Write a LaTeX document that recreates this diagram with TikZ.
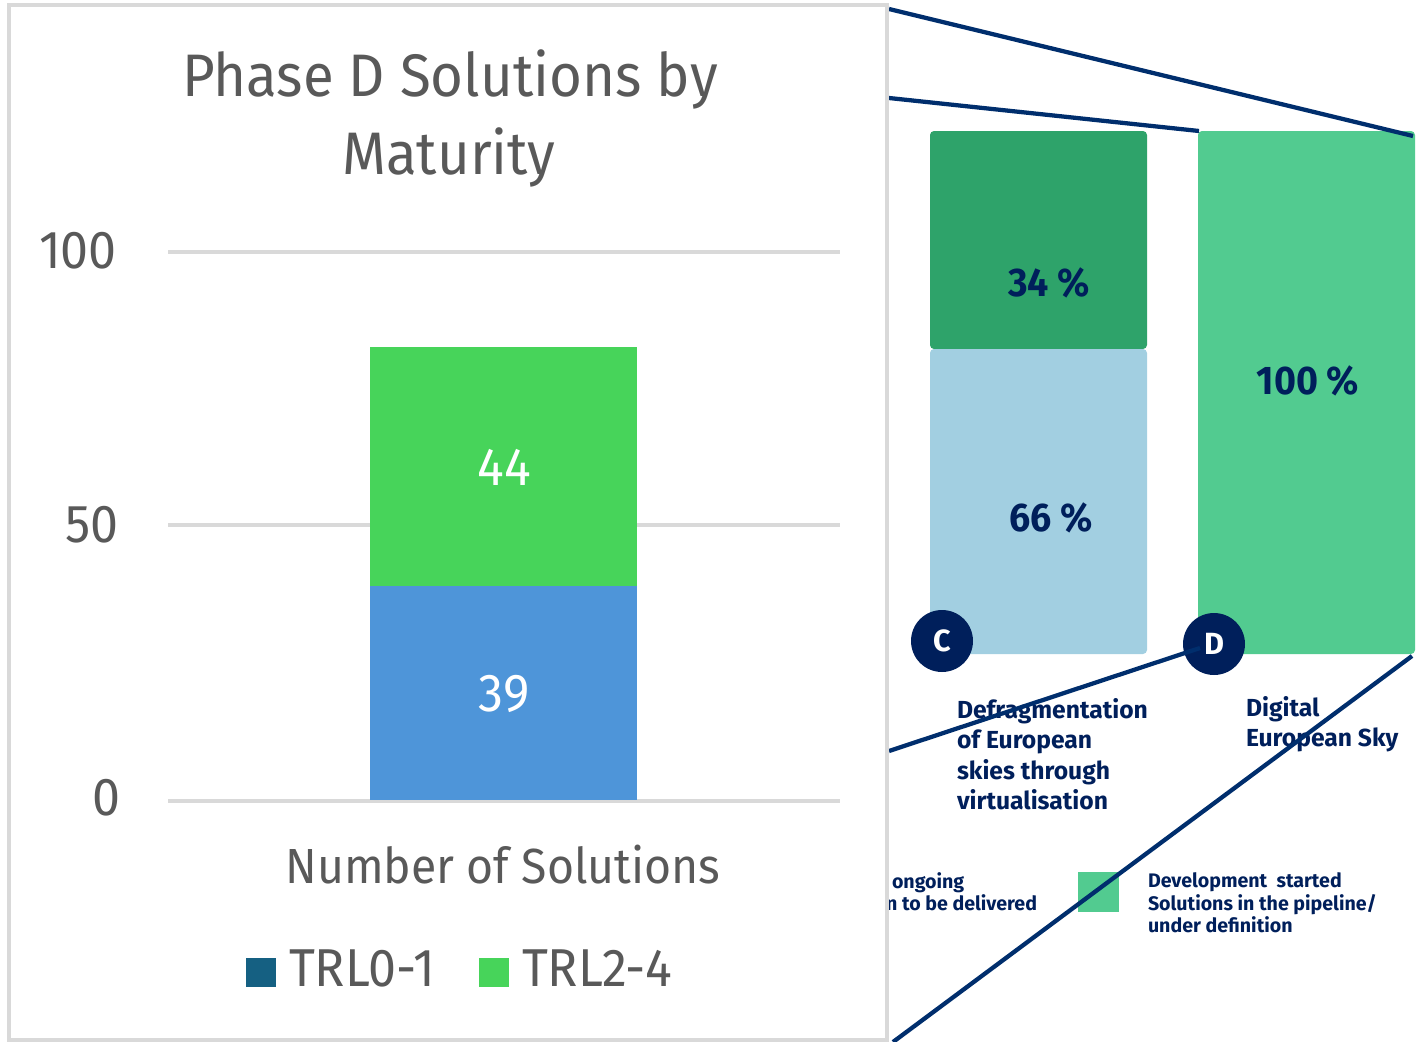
\documentclass[tikz,border=0pt]{standalone}
\usepackage{fontspec}
\setmainfont{Open Sans}
\newfontfamily\chartfont{Fira Sans}[FakeStretch=0.94]
\newfontfamily\pctfont{Fira Sans}[FakeStretch=0.94]
\newfontfamily\infofont{Fira Sans}
\definecolor{gridgray}{HTML}{D9D9D9}
\definecolor{charttext}{HTML}{595959}
\definecolor{navy}{HTML}{001F5B}
\definecolor{linenavy}{HTML}{002E6D}
\definecolor{darkgreen}{HTML}{2EA36A}
\definecolor{lightblue}{HTML}{A2CFE1}
\definecolor{midgreen}{HTML}{52CB90}
\definecolor{barblue}{HTML}{4E95D9}
\definecolor{bargreen}{HTML}{47D45A}
\definecolor{legblue}{HTML}{156082}
\newcommand{\fsz}[2]{\fontsize{#1}{#2}\selectfont}
\tikzset{
  x=0.75pt,y=-0.75pt,
  txt/.style={inner sep=0pt,outer sep=0pt,anchor=center},
  charttxt/.style={txt,text=charttext,font=\chartfont\fsz{40}{44}},
  infotxt/.style={txt,text=navy,font=\infofont\bfseries\fsz{18.5}{22.9},align=left,anchor=north west},
  smalltxt/.style={txt,text=navy,font=\infofont\bfseries\fsz{14.7}{16.9},align=left,anchor=north west},
  pct/.style={txt,text=navy,font=\pctfont\bfseries\fsz{30}{32}},
  callout/.style={draw=linenavy,line width=3.2pt},
  grid/.style={draw=gridgray,line width=3pt},
  badge/.style={circle,fill=navy,text=white,inner sep=0pt,minimum size=46.5pt,font=\infofont\bfseries\fsz{23}{24}},
  box/.style={inner sep=0pt,outer sep=0pt,rounded corners=3pt},
}
\begin{document}
\begin{tikzpicture}
\useasboundingbox (0,0) rectangle (1422,1042);
% right-hand graphic
\fill[box,darkgreen] (930,131) rectangle (1147,349);
\fill[box,lightblue] (930,349) rectangle (1147,654);
\fill[box,midgreen] (1198,131) rectangle (1415,654);
\node[pct] (p34) at (1049,283) {34 \%};
\node[pct] (p66) at (1051,518) {66 \%};
\node[pct] (p100) at (1308,381) {100 \%};
\node[badge] (c) at (942,641) {C};
\node[badge] (d) at (1214,644) {D};
\node[infotxt] (defrag) at (957,698) {Defragmentation\\of European\\skies through\\virtualisation};
\node[infotxt] (digital) at (1246,696) {Digital\\European Sky};
\node[smalltxt] (ongoing) at (892,873) {ongoing};
\node[smalltxt,anchor=north east] (deliv) at (1037,895) {n to be delivered};
\fill[midgreen] (1078,872) rectangle (1119,912);
\node[smalltxt] (dev) at (1148,873) {Development\ \ started\\Solutions in the pipeline/\\under definition};
% callout lines
\coordinate (a1) at (889,9); \coordinate (a2) at (1413,136);
\coordinate (b1) at (889,98); \coordinate (b2) at (1199,131);
\coordinate (e1) at (889,751); \coordinate (e2) at (1200,648);
\coordinate (f1) at (893,1042); \coordinate (f2) at (1412,656);
\draw[callout] (a1) -- (a2);
\draw[callout] (b1) -- (b2);
\draw[callout] (e1) -- (e2);
\draw[callout] (f1) -- (f2);
% chart panel
\filldraw[fill=white,draw=gridgray,line width=3pt] (9,5) rectangle (887,1040);
\node[charttxt,font=\chartfont\fsz{45}{48}] (t1) at (450,79) {Phase D Solutions by};
\node[charttxt,font=\chartfont\fsz{45}{48}] (t2) at (449,157) {Maturity};
\draw[grid] (168,252) -- (840,252);
\draw[grid] (168,525) -- (840,525);
\draw[grid] (168,801) -- (840,801);
\node[charttxt] (y100) at (78,251) {100};
\node[charttxt] (y50) at (92,525) {50};
\node[charttxt] (y0) at (106,798) {0};
\fill[bargreen] (370,347) rectangle (637,586);
\fill[barblue] (370,586) rectangle (637,800);
\node[charttxt,text=white] (v44) at (504,467) {44};
\node[charttxt,text=white] (v39) at (504,694) {39};
\node[charttxt,font=\chartfont\fsz{37}{40}] (xl) at (503,865) {Number of Solutions};
\fill[legblue] (246,958) rectangle (276,987);
\fill[bargreen] (479,958) rectangle (509,987);
\node[charttxt,anchor=west] (l1) at (289,968) {TRL0-1};
\node[charttxt,anchor=west] (l2) at (522,968) {TRL2-4};
\end{tikzpicture}
\end{document}
